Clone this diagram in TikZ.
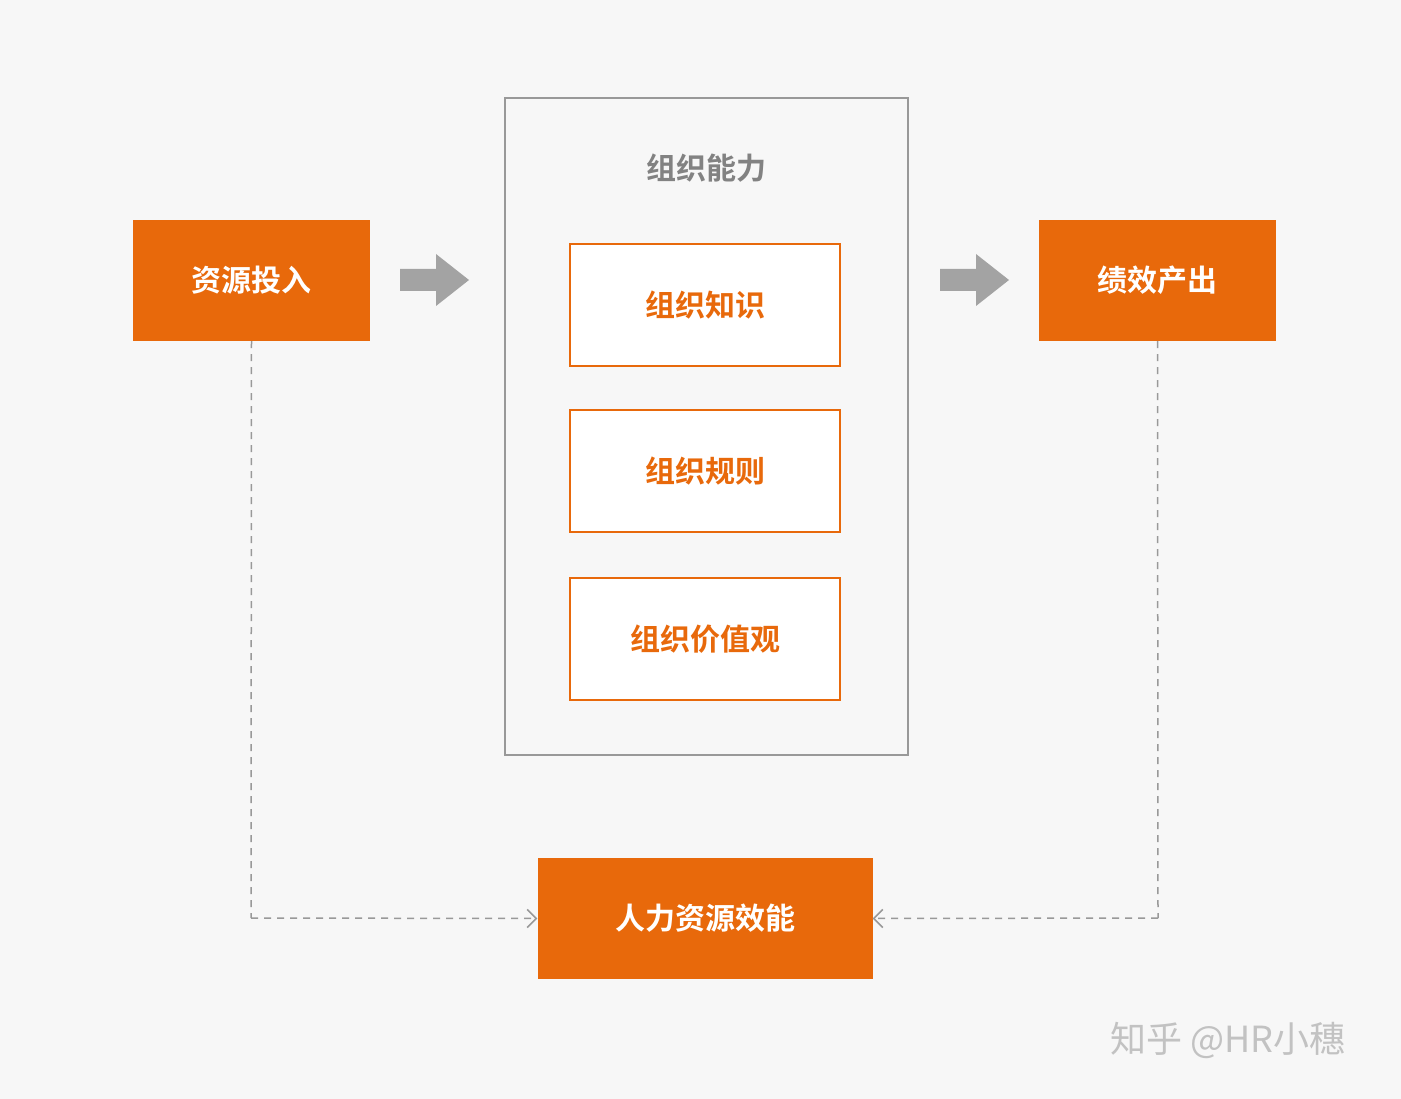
\documentclass[tikz,border=0pt]{standalone}
\usepackage{fontspec}
\setmainfont{Noto Sans CJK SC}[BoldFont={Noto Sans CJK SC Bold}]
\usetikzlibrary{arrows.meta}
\definecolor{org}{HTML}{E8690B}
\definecolor{bg}{HTML}{F7F7F7}
\definecolor{gr}{HTML}{999999}
\begin{document}
\begin{tikzpicture}[x=1pt,y=-1pt,
  sbox/.style={draw=none,fill=org,minimum width=237pt,minimum height=121pt,inner sep=0pt,text=white,font=\bfseries\fontsize{30}{30}\selectfont},
  ibox/.style={draw=org,line width=1.5pt,fill=white,minimum width=270pt,minimum height=122pt,inner sep=0pt,text=org,font=\bfseries\fontsize{30}{30}\selectfont},
  dsh/.style={draw=gr,line width=1.5pt,dash pattern=on 7pt off 6pt},
  tip/.style={-{Straight Barb[length=9pt,width=18pt,line width=1.5pt]}},
  blk/.style={fill=gr!90,draw=none}]
\fill[bg] (0,0) rectangle (1401,1099);
\node[draw=gr,line width=1.5pt,minimum width=403pt,minimum height=657pt,inner sep=0pt] (cap) at (706.5,426.5) {};
\node[text=gr!85!black,font=\bfseries\fontsize{30}{30}\selectfont] (capt) at (706,168) {组织能力};
\node[sbox] (in) at (251.5,280.5) {资源投入};
\node[sbox] (out) at (1157.5,280.5) {绩效产出};
\node[ibox] (k) at (705,305) {组织知识};
\node[ibox] (r) at (705,471) {组织规则};
\node[ibox] (v) at (705,639) {组织价值观};
\node[sbox,minimum width=335pt] (hr) at (705,918.5) {人力资源效能};
\fill[blk] (400,269) -- (436,269) -- (436,254) -- (469,280) -- (436,306) -- (436,291) -- (400,291) -- cycle;
\fill[blk] (940,269) -- (976,269) -- (976,254) -- (1009,280) -- (976,306) -- (976,291) -- (940,291) -- cycle;
\coordinate (a1) at (251,918);
\coordinate (a2) at (1158,918);
\draw[dsh] (in.south) -- (a1);
\draw[dsh,tip] (a1) -- (hr.west);
\draw[dsh] (out.south) -- (a2);
\draw[dsh,tip] (a2) -- (hr.east);
\node[text=gr!60,font=\fontsize{36}{36}\selectfont,anchor=center] (wm) at (1228,1040) {知乎 @HR小穗};
\end{tikzpicture}
\end{document}
